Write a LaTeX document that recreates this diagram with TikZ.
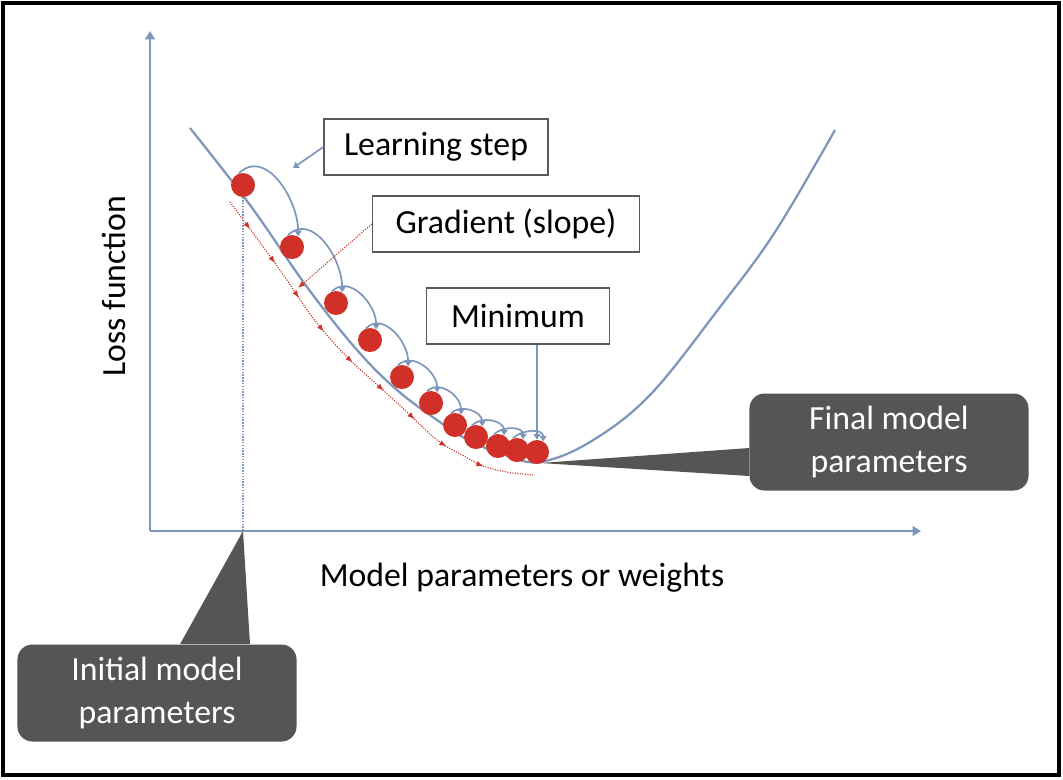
\documentclass[tikz,border=0pt]{standalone}
\usepackage{fontspec}
\setmainfont{Carlito}
\usetikzlibrary{positioning,arrows.meta,decorations.markings}
\definecolor{axisblue}{RGB}{125,150,185}
\definecolor{ballred}{RGB}{208,48,40}
\definecolor{calloutgray}{RGB}{85,85,85}

\begin{document}
\begin{tikzpicture}[x=0.025cm,y=-0.025cm,
  font=\fontsize{24}{30}\selectfont,
  ball/.style={circle,fill=ballred,minimum size=0.6cm,inner sep=0pt},
  labelbox/.style={draw=gray!70!black,line width=1pt,fill=white,
    minimum height=1.4cm,inner sep=0pt},
  callout/.style={fill=calloutgray,rounded corners=0.375cm,text=white,
    align=center,minimum width=6.975cm,minimum height=2.425cm,inner sep=0pt},
  axisline/.style={axisblue,line width=2pt,-{Triangle[width=7pt,length=6pt]}},
  stepline/.style={axisblue,line width=1.2pt,-{Triangle[width=5pt,length=4pt]}},
  gradline/.style={ballred,densely dotted,line width=0.8pt,postaction={decorate},
    decoration={markings,mark=between positions 0.08 and 0.98 step 0.1
      with {\arrow[solid]{Latex[length=5pt,width=4pt]}}}}]
  \useasboundingbox (0,0) rectangle (1063,779);
  \draw[line width=3pt] (3,3) rectangle (1059,775);

  % axes
  \coordinate (o) at (150,531);
  \coordinate (xend) at (921,531);
  \coordinate (yend) at (150,31);
  \draw[axisline] (o) -- (xend);
  \draw[axisline] (o) -- (yend);
  \node (xlab) at (522,578) {Model parameters or weights};
  \node[rotate=90] (ylab) at (114,286) {Loss function};

  % loss curve
  \draw[axisblue,line width=1.6pt] plot[smooth,tension=0.6] coordinates
    {(190,128) (250,205) (307,287) (357,350) (397,390) (437,420) (470,441)
     (505,455) (540,462) (590,442) (650,395) (720,307) (775,232) (835,130)};
  \coordinate (fmin) at (540,463);

  % gradient
  \draw[gradline] plot[smooth,tension=0.6] coordinates
    {(230,202) (280,270) (313,318) (347,357) (383,390) (408,413) (437,440)
     (462,455) (483,466) (507,472) (533,475)};

  % steps
  \foreach \n/\x/\y in {1/243/185,2/292/247,3/336/303,4/370/340,5/402/377,
    6/431/403,7/455/425,8/476/437,9/498/446,10/517/450,11/537/452}
    \node[ball] (b\n) at (\x,\y) {};
  \draw[axisblue,densely dotted,line width=1pt] (b1.south) -- (b1.south |- o);
  \foreach \i/\j in {1/2,2/3,3/4,4/5,5/6,6/7,7/8,8/9,9/10,10/11}
    \draw[stepline] (b\i.110) to[out=45,in=90,looseness=1.1] (b\j.60);

  % labels
  \node[labelbox,minimum width=5.6cm] (ls) at (436,147) {Learning step};
  \node[labelbox,minimum width=6.675cm] (gr) at (506,224) {Gradient (slope)};
  \node[labelbox,minimum width=4.575cm] (mn) at (518,316) {Minimum};
  \coordinate (gtip) at (298,288);
  \draw[stepline] (ls.west) -- (293,168);
  \draw[ballred,densely dotted,line width=0.8pt,-{Latex[length=5pt,width=4pt]}]
    (gr.west) -- (gtip);
  \draw[stepline] (mn.south -| b11) -- (b11.north);

  % callouts
  \node[callout] (fin) at (889,442) {Final model\\parameters};
  \fill[calloutgray] (fmin) -- (fin.west |- 0,448) -- (fin.west |- 0,476) -- cycle;
  \node[callout] (init) at (157,693) {Initial model\\parameters};
  \fill[calloutgray] (b1.south |- o) -- (init.north -| 180,0) -- (init.north -| 250,0) -- cycle;
\end{tikzpicture}
\end{document}
